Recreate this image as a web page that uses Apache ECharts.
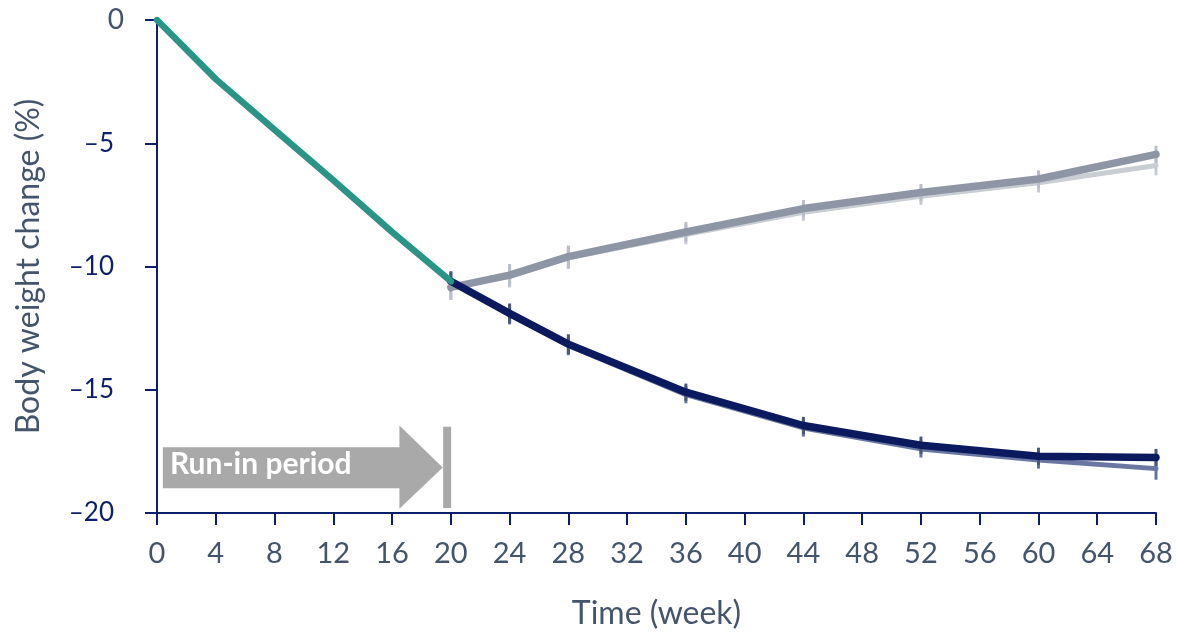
<!DOCTYPE html>
<html>
<head>
<meta charset="utf-8">
<script src="https://cdn.jsdelivr.net/npm/echarts@6/dist/echarts.min.js"></script>
<style>
html,body{margin:0;padding:0;background:#fff;}
#chart{width:1177px;height:635px;}
</style>
</head>
<body>
<div id="chart"></div>
<script>
// ---- data ----
const runinWeeks = [0, 4, 8, 12, 16, 20];
const runinValues = [0, -2.4, -4.45, -6.5, -8.6, -10.6];

const weeks = [20, 24, 28, 36, 44, 52, 60, 68];
const navyValues = [-10.6, -11.9, -13.15, -15.1, -16.45, -17.25, -17.7, -17.75];
const navyLightValues = [-10.6, -11.95, -13.2, -15.2, -16.55, -17.4, -17.85, -18.2];
const grayValues = [-10.85, -10.35, -9.6, -8.6, -7.65, -7.0, -6.45, -5.45];
const grayLightValues = [-10.85, -10.4, -9.65, -8.7, -7.8, -7.15, -6.6, -5.9];

const navyErr = [0.4, 0.4, 0.4, 0.35, 0.35, 0.35, 0.35, 0.35];
const navyLightErr = [0.4, 0.4, 0.4, 0.35, 0.35, 0.35, 0.35, 0.45];
const grayErr = [0.5, 0.45, 0.45, 0.4, 0.35, 0.35, 0.35, 0.35];
const grayLightErr = [0.5, 0.45, 0.45, 0.4, 0.35, 0.35, 0.4, 0.4];

const xTicks = [0, 4, 8, 12, 16, 20, 24, 28, 32, 36, 40, 44, 48, 52, 56, 60, 64, 68];
const yTicks = [0, -5, -10, -15, -20];

const FONT = 'Lato, "Noto Sans", sans-serif';
const LABEL_COLOR = '#44546a';
const NAVY_LABEL = '#0d1f6b';
const AXIS_COLOR = '#0d1f6b';

function pairs(xs, ys) { return xs.map((x, i) => [x, ys[i]]); }

function errSeries(values, errs, color, z) {
  return {
    type: 'custom',
    z: z,
    silent: true,
    data: weeks.map((w, i) => [w, values[i], errs[i]]),
    renderItem: function (params, api) {
      const x = api.value(0), v = api.value(1), e = api.value(2);
      const p1 = api.coord([x, v + e]);
      const p2 = api.coord([x, v - e]);
      return {
        type: 'line',
        shape: { x1: p1[0], y1: p1[1], x2: p2[0], y2: p2[1] },
        style: { stroke: color, lineWidth: 3 }
      };
    }
  };
}

function lineSeries(values, color, width, z) {
  return {
    type: 'line',
    data: pairs(weeks, values),
    symbol: 'none',
    z: z,
    silent: true,
    lineStyle: { color: color, width: width, join: 'round', cap: 'round' }
  };
}

const chart = echarts.init(document.getElementById('chart'), null, { renderer: 'canvas' });

const option = {
  animation: false,
  backgroundColor: '#ffffff',
  grid: { left: 157, right: 21, top: 20, bottom: 122, containLabel: false },
  xAxis: {
    type: 'value',
    min: 0, max: 68, interval: 4,
    name: 'Time (week)',
    nameLocation: 'middle',
    nameGap: 85,
    nameTextStyle: { color: LABEL_COLOR, fontSize: 32, fontFamily: FONT },
    axisLine: { onZero: false, lineStyle: { color: AXIS_COLOR, width: 2 } },
    axisTick: { show: true, length: 12, inside: false, lineStyle: { color: AXIS_COLOR, width: 2 } },
    axisLabel: {
      color: LABEL_COLOR, fontSize: 29, fontFamily: FONT, margin: 26
    },
    splitLine: { show: false }
  },
  yAxis: {
    type: 'value',
    min: -20, max: 0, interval: 5,
    name: 'Body weight change (%)',
    nameLocation: 'middle',
    nameGap: 112,
    nameTextStyle: { color: LABEL_COLOR, fontSize: 32, fontFamily: FONT },
    axisLine: { onZero: false, lineStyle: { color: AXIS_COLOR, width: 2 } },
    axisTick: { show: true, length: 12, inside: false, lineStyle: { color: AXIS_COLOR, width: 2 } },
    axisLabel: {
      fontSize: 25, fontFamily: FONT, margin: 33,
      formatter: v => (v < 0 ? '{n|\u2013' + Math.abs(v) + '}' : '{z|' + v + '}'),
      rich: {
        n: { color: NAVY_LABEL, fontSize: 26, fontFamily: FONT, padding: [0, 10, 0, 0] },
        z: { color: LABEL_COLOR, fontSize: 28, fontFamily: FONT }
      }
    },
    splitLine: { show: false }
  },
  series: [
    errSeries(grayLightValues, grayLightErr, '#c6cad2', 2),
    lineSeries(grayLightValues, '#c9cdd4', 5, 3),
    errSeries(navyLightValues, navyLightErr, '#6673a0', 2),
    lineSeries(navyLightValues, '#6a77a3', 5, 3),
    errSeries(grayValues, grayErr, '#b9bec8', 4),
    lineSeries(grayValues, '#8e96a6', 7.5, 5),
    errSeries(navyValues, navyErr, '#4b5776', 4),
    lineSeries(navyValues, '#0b1a5e', 7.5, 5),
    {
      type: 'line',
      data: pairs(runinWeeks, runinValues),
      symbol: 'none',
      z: 6,
      silent: true,
      lineStyle: { color: '#2a9487', width: 6.5, join: 'round', cap: 'round' }
    }
  ]
};

chart.setOption(option);

// Run-in annotation (data coordinates -> pixels)
function px(x, y) { return chart.convertToPixel({ gridIndex: 0 }, [x, y]); }
const bodyTL = px(0.4, -17.33), bodyBR = px(16.5, -19.0);
const headTop = px(16.5, -16.45), headBot = px(16.5, -19.83), tip = px(19.45, -18.15);
const barTop = px(19.75, -16.5), barBot = px(19.75, -19.8);

chart.setOption({
  graphic: [
    {
      type: 'polygon',
      z: 10,
      shape: {
        points: [
          [bodyTL[0], bodyTL[1]], [headTop[0], bodyTL[1]], [headTop[0], headTop[1]],
          [tip[0], tip[1]], [headBot[0], headBot[1]], [headBot[0], bodyBR[1]],
          [bodyTL[0], bodyBR[1]]
        ]
      },
      style: { fill: '#a9a9a9' }
    },
    {
      type: 'rect',
      z: 10,
      shape: { x: barTop[0] - 4, y: barTop[1], width: 8, height: barBot[1] - barTop[1] },
      style: { fill: '#a9a9a9' }
    },
    {
      type: 'text',
      z: 11,
      left: bodyTL[0] + 7,
      top: (bodyTL[1] + bodyBR[1]) / 2 - 18,
      style: {
        text: 'Run-in period',
        fill: '#ffffff',
        font: 'bold 30px ' + FONT
      }
    }
  ]
});
</script>
</body>
</html>
